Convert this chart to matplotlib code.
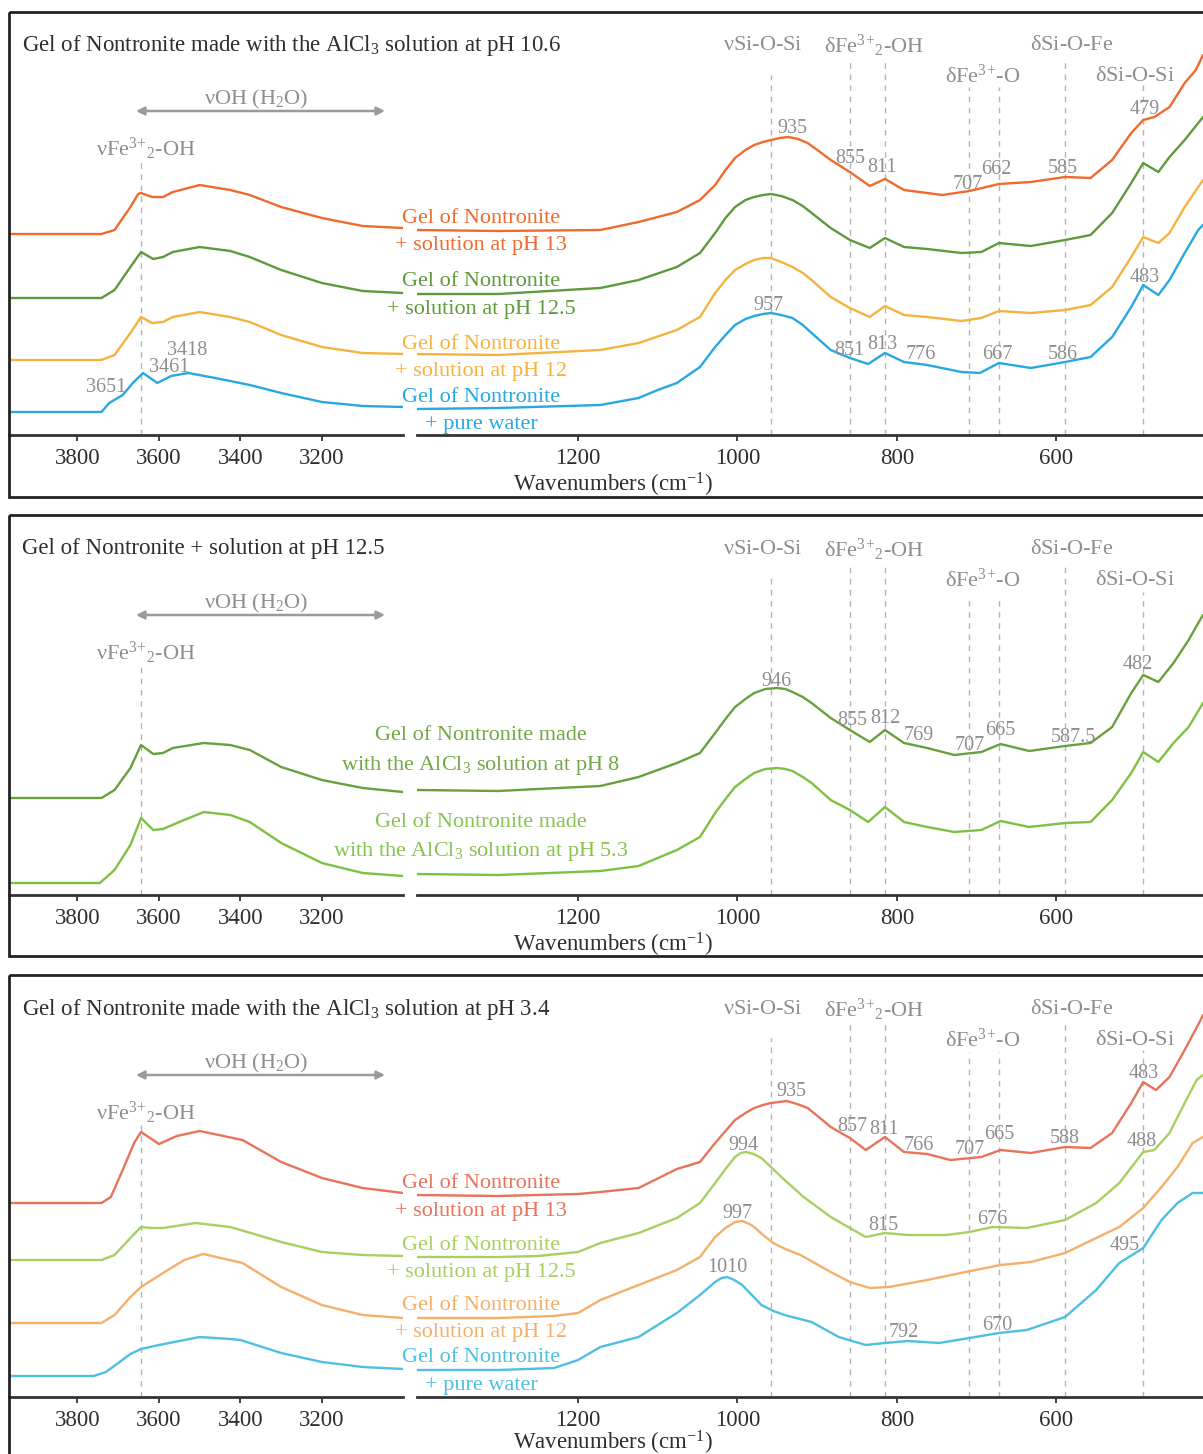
import matplotlib
matplotlib.use('Agg')
import matplotlib.pyplot as plt
from matplotlib.patches import Rectangle

plt.rcParams['font.family'] = ['Liberation Serif', 'DejaVu Serif']
plt.rcParams['mathtext.fontset'] = 'custom'
plt.rcParams['mathtext.rm'] = 'Liberation Serif'
plt.rcParams['mathtext.it'] = 'Liberation Serif:italic'
plt.rcParams['mathtext.bf'] = 'Liberation Serif:bold'

# ---------------- DATA (wavenumbers in cm-1, intensity in arbitrary offset units) -------------
# Panel 1 : gel made with the AlCl3 solution at pH 10.6
p1_ph13_left_w = [3968, 3900, 3800, 3741, 3709, 3670, 3651, 3644, 3617, 3590, 3566, 3500, 3425, 3377, 3300, 3200, 3100, 3001]
p1_ph13_left_a = [2.01, 2.01, 2.01, 2.01, 2.05, 2.28, 2.41, 2.42, 2.38, 2.38, 2.43, 2.50, 2.45, 2.40, 2.28, 2.17, 2.09, 2.07]
p1_ph13_right_w = [1402, 1300, 1172, 1124, 1076, 1047, 1028, 1015, 1003, 990, 979, 968, 958, 947, 936, 924, 912, 898, 883, 859, 834, 815, 791, 743, 709, 672, 632, 589, 557, 530, 506, 491, 477, 458, 439, 425, 416]
p1_ph13_right_a = [2.05, 2.04, 2.05, 2.13, 2.23, 2.35, 2.50, 2.65, 2.77, 2.85, 2.90, 2.93, 2.95, 2.97, 2.98, 2.96, 2.92, 2.84, 2.75, 2.63, 2.49, 2.56, 2.45, 2.40, 2.44, 2.51, 2.53, 2.58, 2.57, 2.75, 3.02, 3.15, 3.18, 3.28, 3.52, 3.65, 3.80]

p1_ph125_left_w = [3968, 3741, 3709, 3670, 3644, 3614, 3590, 3566, 3500, 3425, 3377, 3300, 3200, 3100, 3001]
p1_ph125_left_a = [1.37, 1.37, 1.45, 1.68, 1.83, 1.76, 1.78, 1.83, 1.88, 1.84, 1.78, 1.65, 1.52, 1.44, 1.42]
p1_ph125_right_w = [1402, 1300, 1172, 1124, 1076, 1047, 1028, 1015, 1003, 990, 979, 968, 958, 945, 931, 918, 907, 883, 859, 834, 815, 791, 762, 719, 694, 672, 632, 589, 557, 530, 506, 491, 472, 458, 439, 416]
p1_ph125_right_a = [1.41, 1.41, 1.47, 1.55, 1.68, 1.82, 2.02, 2.17, 2.28, 2.35, 2.38, 2.40, 2.41, 2.39, 2.35, 2.29, 2.22, 2.07, 1.95, 1.87, 1.97, 1.88, 1.86, 1.82, 1.83, 1.92, 1.89, 1.95, 2.00, 2.22, 2.52, 2.72, 2.63, 2.78, 2.95, 3.18]

p1_ph12_left_w = [3968, 3741, 3709, 3670, 3644, 3617, 3590, 3566, 3500, 3425, 3377, 3300, 3200, 3100, 3001]
p1_ph12_left_a = [0.75, 0.75, 0.80, 1.02, 1.18, 1.12, 1.13, 1.18, 1.23, 1.18, 1.13, 1.00, 0.88, 0.82, 0.81]
p1_ph12_right_w = [1402, 1300, 1172, 1124, 1076, 1047, 1028, 1015, 1003, 990, 979, 968, 958, 945, 931, 918, 907, 883, 859, 834, 815, 791, 762, 719, 694, 672, 632, 589, 557, 530, 506, 491, 472, 458, 439, 416]
p1_ph12_right_a = [0.81, 0.80, 0.85, 0.92, 1.05, 1.18, 1.42, 1.55, 1.65, 1.71, 1.75, 1.77, 1.77, 1.73, 1.68, 1.62, 1.55, 1.38, 1.27, 1.18, 1.29, 1.20, 1.18, 1.14, 1.17, 1.24, 1.22, 1.25, 1.30, 1.48, 1.78, 1.98, 1.92, 2.02, 2.28, 2.55]

p1_water_left_w = [3968, 3741, 3722, 3689, 3664, 3639, 3604, 3570, 3528, 3462, 3377, 3300, 3200, 3100, 3001]
p1_water_left_a = [0.23, 0.23, 0.32, 0.40, 0.52, 0.62, 0.52, 0.59, 0.62, 0.57, 0.50, 0.42, 0.33, 0.29, 0.28]
p1_water_right_w = [1402, 1300, 1172, 1124, 1100, 1076, 1047, 1028, 1015, 1003, 990, 979, 968, 958, 945, 931, 918, 907, 883, 859, 836, 815, 791, 762, 719, 696, 672, 632, 589, 557, 530, 506, 491, 472, 458, 439, 422, 416]
p1_water_right_a = [0.26, 0.27, 0.30, 0.37, 0.45, 0.52, 0.68, 0.88, 1.00, 1.10, 1.16, 1.19, 1.21, 1.22, 1.20, 1.17, 1.10, 1.02, 0.85, 0.77, 0.71, 0.82, 0.73, 0.70, 0.63, 0.62, 0.72, 0.67, 0.73, 0.78, 0.98, 1.28, 1.50, 1.40, 1.55, 1.82, 2.05, 2.10]

# Panel 2 : gel + solution at pH 12.5
p2_ph8_left_w = [3968, 3741, 3709, 3670, 3644, 3614, 3590, 3566, 3490, 3425, 3377, 3300, 3200, 3100, 3001]
p2_ph8_left_a = [0.97, 0.97, 1.05, 1.27, 1.50, 1.41, 1.42, 1.47, 1.52, 1.50, 1.45, 1.28, 1.15, 1.07, 1.03]
p2_ph8_right_w = [1402, 1300, 1250, 1172, 1124, 1076, 1047, 1028, 1015, 1003, 990, 979, 965, 950, 940, 931, 918, 907, 883, 859, 834, 815, 791, 762, 728, 694, 670, 634, 589, 557, 530, 506, 491, 472, 453, 434, 422, 416]
p2_ph8_right_a = [1.05, 1.04, 1.06, 1.09, 1.18, 1.32, 1.42, 1.62, 1.76, 1.88, 1.96, 2.02, 2.06, 2.07, 2.06, 2.03, 1.98, 1.92, 1.77, 1.65, 1.53, 1.65, 1.52, 1.47, 1.40, 1.43, 1.51, 1.44, 1.49, 1.52, 1.68, 2.02, 2.20, 2.13, 2.32, 2.55, 2.72, 2.80]

p2_ph53_left_w = [3968, 3745, 3709, 3670, 3644, 3614, 3590, 3550, 3490, 3425, 3377, 3300, 3200, 3100, 3001]
p2_ph53_left_a = [0.12, 0.12, 0.25, 0.50, 0.77, 0.65, 0.66, 0.73, 0.83, 0.80, 0.73, 0.52, 0.32, 0.22, 0.19]
p2_ph53_right_w = [1402, 1300, 1172, 1124, 1076, 1047, 1028, 1015, 1003, 990, 979, 965, 950, 940, 931, 918, 907, 883, 859, 836, 815, 791, 762, 728, 694, 670, 634, 589, 557, 530, 506, 491, 472, 453, 434, 416]
p2_ph53_right_a = [0.21, 0.20, 0.24, 0.29, 0.45, 0.58, 0.82, 0.96, 1.08, 1.16, 1.22, 1.26, 1.27, 1.26, 1.24, 1.18, 1.12, 0.95, 0.85, 0.73, 0.88, 0.73, 0.68, 0.63, 0.65, 0.74, 0.68, 0.72, 0.73, 0.95, 1.22, 1.43, 1.33, 1.52, 1.68, 1.92]

# Panel 3 : gel made with the AlCl3 solution at pH 3.4
p3_ph13_left_w = [3968, 3741, 3718, 3689, 3661, 3644, 3600, 3556, 3500, 3395, 3300, 3200, 3100, 3001]
p3_ph13_left_a = [1.94, 1.94, 2.00, 2.27, 2.54, 2.65, 2.53, 2.61, 2.66, 2.57, 2.35, 2.19, 2.09, 2.04]
p3_ph13_right_w = [1402, 1300, 1200, 1172, 1124, 1076, 1047, 1028, 1015, 1003, 990, 979, 968, 958, 948, 938, 925, 912, 898, 883, 859, 839, 815, 791, 762, 733, 694, 670, 632, 589, 557, 530, 506, 491, 475, 458, 439, 419, 416]
p3_ph13_right_a = [2.02, 2.01, 2.03, 2.05, 2.09, 2.28, 2.35, 2.54, 2.66, 2.77, 2.84, 2.89, 2.92, 2.94, 2.95, 2.96, 2.93, 2.89, 2.80, 2.70, 2.59, 2.47, 2.60, 2.45, 2.43, 2.37, 2.40, 2.47, 2.44, 2.50, 2.49, 2.64, 2.94, 3.15, 3.07, 3.20, 3.47, 3.77, 3.82]

p3_ph125_left_w = [3968, 3741, 3709, 3670, 3644, 3617, 3590, 3510, 3425, 3400, 3300, 3200, 3100, 3001]
p3_ph125_left_a = [1.37, 1.37, 1.42, 1.59, 1.70, 1.69, 1.69, 1.74, 1.70, 1.67, 1.55, 1.45, 1.42, 1.41]
p3_ph125_right_w = [1402, 1300, 1250, 1200, 1172, 1124, 1076, 1047, 1028, 1015, 1003, 996, 989, 980, 970, 958, 945, 931, 917, 900, 883, 859, 839, 815, 786, 738, 709, 680, 637, 589, 550, 521, 491, 477, 458, 439, 424, 416]
p3_ph125_right_a = [1.40, 1.40, 1.41, 1.45, 1.54, 1.64, 1.79, 1.94, 2.14, 2.28, 2.40, 2.44, 2.45, 2.43, 2.39, 2.30, 2.20, 2.10, 2.00, 1.90, 1.80, 1.69, 1.60, 1.64, 1.62, 1.62, 1.65, 1.70, 1.69, 1.77, 1.94, 2.14, 2.45, 2.47, 2.64, 2.94, 3.17, 3.22]

p3_ph12_left_w = [3968, 3741, 3709, 3670, 3644, 3590, 3538, 3491, 3395, 3300, 3200, 3100, 3001]
p3_ph12_left_a = [0.74, 0.74, 0.82, 1.00, 1.10, 1.24, 1.37, 1.43, 1.34, 1.10, 0.92, 0.82, 0.79]
p3_ph12_right_w = [1402, 1300, 1230, 1200, 1172, 1124, 1076, 1047, 1028, 1015, 1003, 994, 985, 979, 968, 955, 940, 921, 883, 859, 834, 810, 762, 714, 670, 632, 589, 550, 521, 491, 468, 448, 429, 416]
p3_ph12_right_a = [0.79, 0.79, 0.81, 0.84, 0.97, 1.12, 1.27, 1.40, 1.60, 1.69, 1.75, 1.76, 1.73, 1.70, 1.62, 1.54, 1.48, 1.42, 1.25, 1.15, 1.09, 1.10, 1.17, 1.25, 1.32, 1.35, 1.44, 1.59, 1.70, 1.89, 2.10, 2.30, 2.54, 2.60]

p3_water_left_w = [3968, 3760, 3730, 3700, 3670, 3644, 3600, 3500, 3425, 3400, 3300, 3200, 3100, 3001]
p3_water_left_a = [0.21, 0.21, 0.25, 0.34, 0.43, 0.48, 0.52, 0.60, 0.58, 0.57, 0.44, 0.35, 0.30, 0.28]
p3_water_right_w = [1402, 1300, 1230, 1200, 1172, 1124, 1076, 1047, 1028, 1020, 1013, 1004, 994, 982, 970, 955, 941, 907, 873, 839, 815, 786, 747, 709, 672, 637, 589, 550, 521, 491, 468, 448, 429, 416]
p3_water_right_a = [0.27, 0.27, 0.29, 0.37, 0.50, 0.60, 0.84, 1.02, 1.15, 1.19, 1.20, 1.17, 1.12, 1.02, 0.92, 0.86, 0.82, 0.75, 0.60, 0.52, 0.54, 0.56, 0.54, 0.59, 0.64, 0.67, 0.80, 1.07, 1.34, 1.49, 1.77, 1.94, 2.04, 2.04]

# band positions (dashed guide lines)
band_left = [3644]
band_right = [958, 859, 815, 709, 672, 589, 491]

panel_titles = [
    r'Gel of Nontronite made with the AlCl$\mathregular{_3}$ solution at pH 10.6',
    r'Gel of Nontronite + solution at pH 12.5',
    r'Gel of Nontronite made with the AlCl$\mathregular{_3}$ solution at pH 3.4',
]
left_ticks = [3800, 3600, 3400, 3200]
right_ticks = [1200, 1000, 800, 600]
xlabel = r'Wavenumbers (cm$\mathregular{^{-1}}$)'

# peak labels (text, panel)
p1_peaks = ['3651', '3461', '3418', '935', '855', '811', '707', '662', '585', '479',
            '957', '851', '813', '776', '667', '586', '483']
p2_peaks = ['946', '855', '812', '769', '707', '665', '587.5', '482']
p3_peaks = ['935', '857', '811', '766', '707', '665', '588', '483', '994', '815', '676', '488',
            '997', '1010', '792', '670', '495']

# ---------------- STYLE / LAYOUT ----------------
W, H = 1203, 1454
fig = plt.figure(figsize=(W / 100, H / 100), dpi=100)
fig.patch.set_facecolor('white')

GRAY = '#8e8e8e'
DASH = '#b4b4b4'
DARK = '#2e2e2e'

def fx(x):
    return x / W

def fy(y):
    return 1 - y / H

panels = [
    dict(top=12, axis=435, bottom=497, off=0, title=panel_titles[0], xl=46,
         series=[
             (p1_ph13_left_w, p1_ph13_left_a, p1_ph13_right_w, p1_ph13_right_a, '#EE6A2D'),
             (p1_ph125_left_w, p1_ph125_left_a, p1_ph125_right_w, p1_ph125_right_a, '#5E9A3C'),
             (p1_ph12_left_w, p1_ph12_left_a, p1_ph12_right_w, p1_ph12_right_a, '#F6B23F'),
             (p1_water_left_w, p1_water_left_a, p1_water_right_w, p1_water_right_a, '#27A8E0'),
         ],
         dtops=[162, 75, 60, 60, 87, 87, 60, 83],
         labels=[('Gel of Nontronite', 216, '#EE6A2D'), ('+ solution at pH 13', 243, '#EE6A2D'),
                 ('Gel of Nontronite', 279, '#5E9A3C'), ('+ solution at pH 12.5', 307, '#5E9A3C'),
                 ('Gel of Nontronite', 342, '#F6B23F'), ('+ solution at pH 12', 369, '#F6B23F'),
                 ('Gel of Nontronite', 395, '#27A8E0'), ('+ pure water', 422, '#27A8E0')],
         peaks=list(zip(p1_peaks, [(106, 385), (169, 365), (187, 348), (792, 126), (850, 156),
                                   (882, 165), (968, 182), (996, 167), (1063, 166), (1145, 107),
                                   (768, 303), (849, 348), (882, 342), (921, 352), (997, 352),
                                   (1063, 352), (1145, 275)]))),
    dict(top=515, axis=895, bottom=956, off=504, title=panel_titles[1], xl=46,
         series=[
             (p2_ph8_left_w, p2_ph8_left_a, p2_ph8_right_w, p2_ph8_right_a, '#67A03C'),
             (p2_ph53_left_w, p2_ph53_left_a, p2_ph53_right_w, p2_ph53_right_a, '#7DC142'),
         ],
         dtops=[665, 578, 563, 563, 597, 597, 563, 592],
         labels=[('Gel of Nontronite made', 733, '#72A845'),
                 (r'with the AlCl$\mathregular{_3}$ solution at pH 8', 762, '#72A845'),
                 ('Gel of Nontronite made', 820, '#86C44F'),
                 (r'with the AlCl$\mathregular{_3}$ solution at pH 5.3', 848, '#86C44F')],
         peaks=list(zip(p2_peaks, [(777, 679), (852, 718), (885, 716), (919, 733), (970, 743),
                                   (1000, 728), (1073, 735), (1138, 662)]))),
    dict(top=975, axis=1397, bottom=1470, off=964, title=panel_titles[2], xl=42,
         series=[
             (p3_ph13_left_w, p3_ph13_left_a, p3_ph13_right_w, p3_ph13_right_a, '#E9725A'),
             (p3_ph125_left_w, p3_ph125_left_a, p3_ph125_right_w, p3_ph125_right_a, '#A7CF62'),
             (p3_ph12_left_w, p3_ph12_left_a, p3_ph12_right_w, p3_ph12_right_a, '#F4B06B'),
             (p3_water_left_w, p3_water_left_a, p3_water_right_w, p3_water_right_a, '#4DBFE2'),
         ],
         dtops=[1125, 1038, 1023, 1023, 1052, 1052, 1023, 1050],
         labels=[('Gel of Nontronite', 1181, '#E9725A'), ('+ solution at pH 13', 1209, '#E9725A'),
                 ('Gel of Nontronite', 1243, '#A7CF62'), ('+ solution at pH 12.5', 1270, '#A7CF62'),
                 ('Gel of Nontronite', 1303, '#F4B06B'), ('+ solution at pH 12', 1330, '#F4B06B'),
                 ('Gel of Nontronite', 1355, '#4DBFE2'), ('+ pure water', 1383, '#4DBFE2')],
         peaks=list(zip(p3_peaks, [(791, 1089), (852, 1124), (884, 1127), (919, 1143), (970, 1147),
                                   (999, 1132), (1065, 1136), (1144, 1071), (743, 1143), (883, 1223),
                                   (992, 1217), (1142, 1139), (737, 1211), (727, 1265), (904, 1330),
                                   (997, 1323), (1125, 1243)]))),
]

LEFT_X0, LEFT_X1, RIGHT_X0, RIGHT_X1 = 9, 403, 417, 1203
LEFT_LIM = (3968, 3001)
RIGHT_LIM = (1402, 416)

def style_axis(ax, ticks):
    for s in ['top', 'left', 'right']:
        ax.spines[s].set_visible(False)
    ax.spines['bottom'].set_color('#333333')
    ax.spines['bottom'].set_linewidth(2.0)
    ax.set_yticks([])
    ax.set_xticks(ticks)
    ax.set_xticklabels([str(t) for t in ticks])
    ax.tick_params(axis='x', direction='out', length=4.5, width=1.3, color='#333333',
                   labelsize=16.5, labelcolor=DARK, pad=4.5)
    ax.patch.set_alpha(0)

for P in panels:
    top, axis = P['top'], P['axis']
    h = axis - top
    ymax = h / 100.0
    axL = fig.add_axes([fx(LEFT_X0), fy(axis), fx(LEFT_X1) - fx(LEFT_X0), h / H])
    axR = fig.add_axes([fx(RIGHT_X0), fy(axis), fx(RIGHT_X1) - fx(RIGHT_X0), h / H])
    for ax, lim, ticks in [(axL, LEFT_LIM, left_ticks), (axR, RIGHT_LIM, right_ticks)]:
        ax.set_xlim(*lim)
        ax.set_ylim(0, ymax)
        style_axis(ax, ticks)
    dt = P['dtops']
    for w, t in zip(band_left, dt[:1]):
        axL.axvline(w, ymin=0, ymax=(axis - t) / h, color=DASH, lw=1.0, ls=(0, (4, 4)))
    for w, t in zip(band_right, dt[1:]):
        axR.axvline(w, ymin=0, ymax=(axis - t) / h, color=DASH, lw=1.0, ls=(0, (4, 4)))
    for lw_, la, rw, ra, c in P['series']:
        axL.plot(lw_, la, color=c, lw=1.7, solid_joinstyle='round', solid_capstyle='round')
        axR.plot(rw, ra, color=c, lw=1.7, solid_joinstyle='round', solid_capstyle='round')

# overlay in pixel coordinates for frames and annotations
ov = fig.add_axes([0, 0, 1, 1], zorder=10)
ov.set_xlim(0, W)
ov.set_ylim(H, 0)
ov.axis('off')
ov.patch.set_alpha(0)

def T(x, y, s, color=GRAY, size=16, ha='center'):
    ov.text(x, y, s, color=color, fontsize=size, ha=ha, va='center_baseline')

SUP3 = r'$\mathregular{^{3}}$$\mathregular{^{+}}$'
SUB2 = r'$\mathregular{_{2}}$'
band_names = [
    (r'$\mathregular{\nu}$Si-O-Si', 763, 0),
    (r'$\mathregular{\delta}$Fe' + SUP3 + SUB2 + '-OH', 874, 0),
    (r'$\mathregular{\delta}$Si-O-Fe', 1072, 0),
    (r'$\mathregular{\delta}$Fe' + SUP3 + '-O', 983, 31),
    (r'$\mathregular{\delta}$Si-O-Si', 1135, 31),
]

for P in panels:
    off = P['off']
    fr = Rectangle((9, P['top']), 1250, P['bottom'] - P['top'], fill=False,
                   ec='#222222', lw=2.0)
    ov.add_patch(fr)
    T(22, 42 + off, P['title'], color=DARK, size=16.5, ha='left')
    for s, x, dy in band_names:
        T(x, 43 + off + dy, s, size=16)
    T(256, 96 + off, r'$\mathregular{\nu}$OH (H' + SUB2 + 'O)', size=16)
    ov.annotate('', xy=(136, 111 + off), xytext=(385, 111 + off),
                arrowprops=dict(arrowstyle='<|-|>', color='#9a9a9a', lw=1.8,
                                mutation_scale=12, shrinkA=0, shrinkB=0))
    T(146, 146 + off, r'$\mathregular{\nu}$Fe' + SUP3 + SUB2 + '-OH', size=16)
    for s, y, c in P['labels']:
        T(481, y, s, color=c, size=16)
    for s, (x, y) in P['peaks']:
        T(x, y, s, size=14.5)
    T(613, P['axis'] + P['xl'], xlabel, color=DARK, size=16.5)

fig.savefig('out.png', dpi=100)
